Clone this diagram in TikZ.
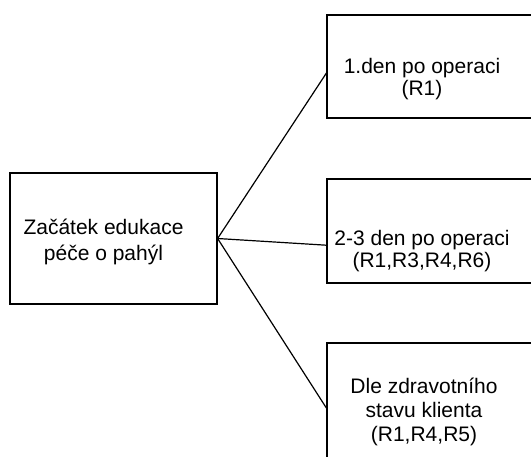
\documentclass[tikz,border=0pt]{standalone}
\usepackage{fontspec}
\setmainfont{Liberation Sans}
\usetikzlibrary{calc}
\begin{document}
\begin{tikzpicture}[x=1pt,y=-1pt,
  box/.style={draw,line width=1.2pt,inner sep=0pt},
  lbl/.style={align=center,inner sep=0pt},
  link/.style={line width=1.2pt}]
\useasboundingbox (0,0) rectangle (531,456);
\clip (0,0) rectangle (531,456);

% boxes
\node[box,minimum width=207pt,minimum height=131pt] (start) at (113.5,238.5) {};
\node[box,minimum width=218pt,minimum height=103pt] (day1) at (436,66.5) {};
\node[box,minimum width=218pt,minimum height=104pt] (day23) at (436,231) {};
\node[box,minimum width=218pt,minimum height=127pt] (state) at (436,406.5) {};

% texts
\node[lbl,font={\fontsize{21}{26}\selectfont}] (tstart) at (103.5,242) {Začátek edukace\\péče o pahýl};
\node[lbl,font={\fontsize{21}{22}\selectfont}] (tday1) at (422,79) {1.den po operaci\\(R1)};
\node[lbl,font={\fontsize{21}{22}\selectfont}] (tday23) at (422,251) {2-3 den po operaci\\(R1,R3,R4,R6)};
\node[lbl,font={\fontsize{21}{24}\selectfont}] (tstate) at (424,411.5) {Dle zdravotního\\stavu klienta\\(R1,R4,R5)};

% connectors
\draw[link] (start.east) -- ($(day1.north west)!0.563!(day1.south west)$);
\draw[link] (start.east) -- ($(day23.north west)!0.635!(day23.south west)$);
\draw[link] (start.east) -- ($(state.north west)!0.512!(state.south west)$);
\end{tikzpicture}
\end{document}
